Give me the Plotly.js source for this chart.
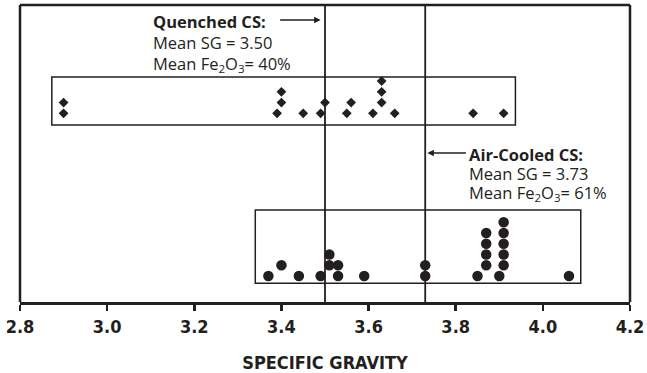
<!DOCTYPE html>
<html>
<head>
<meta charset="utf-8">
<script src="https://cdn.plot.ly/plotly-3.0.1.min.js"></script>
<style>html,body{margin:0;padding:0;background:#fff;}#chart{width:647px;height:373px;}</style>
</head>
<body>
<div id="chart"></div>
<script>
// Quenched copper slag: specific gravity values and their stack level in the dot plot
const quenchedSG = [2.90, 2.90, 3.39, 3.40, 3.40, 3.45, 3.49, 3.50, 3.55, 3.56, 3.61, 3.63, 3.63, 3.63, 3.66, 3.84, 3.91];
const quenchedLevel = [1, 2, 1, 2, 3, 1, 1, 2, 1, 2, 1, 2, 3, 4, 1, 1, 1];
// Air-cooled copper slag
const airSG = [3.37, 3.40, 3.44, 3.49, 3.51, 3.51, 3.53, 3.53, 3.59, 3.73, 3.73, 3.85, 3.87, 3.87, 3.87, 3.87, 3.90, 3.91, 3.91, 3.91, 3.91, 3.91, 4.06];
const airLevel = [1, 2, 1, 1, 2, 3, 1, 2, 1, 1, 2, 1, 2, 3, 4, 5, 1, 2, 3, 4, 5, 6, 1];
// Group means
const meanSG = [3.50, 3.73];
const meanFe = [40, 61];
const groupNames = ['Quenched CS:', 'Air-Cooled CS:'];
const xTicks = [2.8, 3.0, 3.2, 3.4, 3.6, 3.8, 4.0, 4.2];

// layout constants (row units)
const plotHpx = 297, rowPx = 10.75;
const yMax = plotHpx / rowPx;
const qBase = 17.55, aBase = 2.42;
const ink = '#231f20';
const font = 'Open Sans, Noto Sans, sans-serif';
const axFont = 'DejaVu Sans Condensed, DejaVu Sans, sans-serif';

const traces = [
  {x: quenchedSG, y: quenchedLevel.map(l => qBase + (l - 1)), mode: 'markers', type: 'scatter',
   marker: {symbol: 'diamond', size: 7.5, color: ink}, hoverinfo: 'x'},
  {x: airSG, y: airLevel.map(l => aBase + (l - 1)), mode: 'markers', type: 'scatter',
   marker: {symbol: 'circle', size: 10.5, color: ink}, hoverinfo: 'x'}
];

const shapes = [
  // frame (left, right, top)
  {type: 'line', xref: 'paper', yref: 'paper', x0: 0, x1: 0, y0: 0, y1: 1, line: {color: ink, width: 2.5}},
  {type: 'line', xref: 'paper', yref: 'paper', x0: 1, x1: 1, y0: 0, y1: 1, line: {color: ink, width: 2.5}},
  {type: 'line', xref: 'paper', yref: 'paper', x0: 0, x1: 1, y0: 1, y1: 1, line: {color: ink, width: 2.5}},
  // mean lines
  {type: 'line', xref: 'x', yref: 'paper', x0: meanSG[0], x1: meanSG[0], y0: 0, y1: 1, line: {color: ink, width: 1.8}},
  {type: 'line', xref: 'x', yref: 'paper', x0: meanSG[1], x1: meanSG[1], y0: 0, y1: 1, line: {color: ink, width: 1.8}},
  // group boxes
  {type: 'rect', xref: 'x', yref: 'y', x0: 2.873, x1: 3.937, y0: 16.47, y1: 20.93, line: {color: ink, width: 1.5}},
  {type: 'rect', xref: 'x', yref: 'y', x0: 3.340, x1: 4.087, y0: 1.74, y1: 8.56, line: {color: ink, width: 1.5}}
];

function py(pix) { return (302 - pix) / plotHpx; } // pixel row -> paper y
const tf = {family: font, size: 16.5, color: ink};
const annotations = [];
function block(xPix, yPix, gap, i) {
  const lines = ['<b>' + groupNames[i] + '</b>',
    'Mean SG = ' + meanSG[i].toFixed(2),
    'Mean Fe<sub>2</sub>O<sub>3</sub>= ' + meanFe[i] + '%'];
  lines.forEach((t, k) => annotations.push({
    xref: 'paper', yref: 'paper', x: (xPix - 20) / 610, y: py(yPix + k * gap),
    xanchor: 'left', yanchor: 'middle', text: t, showarrow: false, font: tf, align: 'left'
  }));
}
block(151, 21.5, 21, 0);
block(467, 154, 19.5, 1);
// arrows
annotations.push({xref: 'x', yref: 'paper', x: meanSG[0] - 0.01, y: py(20), ax: -42, ay: 0, text: '',
  showarrow: true, arrowhead: 2, arrowsize: 1, arrowwidth: 1.3, arrowcolor: ink, standoff: 0});
annotations.push({xref: 'x', yref: 'paper', x: meanSG[1] + 0.005, y: py(153), ax: 40, ay: 0, text: '',
  showarrow: true, arrowhead: 2, arrowsize: 1, arrowwidth: 1.3, arrowcolor: ink, standoff: 0});

const layout = {
  width: 647, height: 373,
  margin: {l: 20, r: 17, t: 5, b: 71},
  paper_bgcolor: '#fff', plot_bgcolor: '#fff',
  showlegend: false,
  xaxis: {
    range: [2.8, 4.2], tickvals: xTicks, ticktext: xTicks.map(v => v.toFixed(1)),
    showline: true, linewidth: 3, linecolor: ink, ticks: 'outside', ticklen: 6, tickwidth: 2.5, tickcolor: ink,
    showgrid: false, zeroline: false,
    tickfont: {family: axFont, size: 18, color: ink, weight: 'bold'},
    title: {text: '<b>SPECIFIC GRAVITY</b>', font: {family: axFont, size: 18, color: ink}, standoff: 22}
  },
  yaxis: {range: [0, yMax], visible: false, fixedrange: true},
  shapes: shapes,
  annotations: annotations
};

Plotly.newPlot('chart', traces, layout, {displayModeBar: false, staticPlot: true});
</script>
</body>
</html>
